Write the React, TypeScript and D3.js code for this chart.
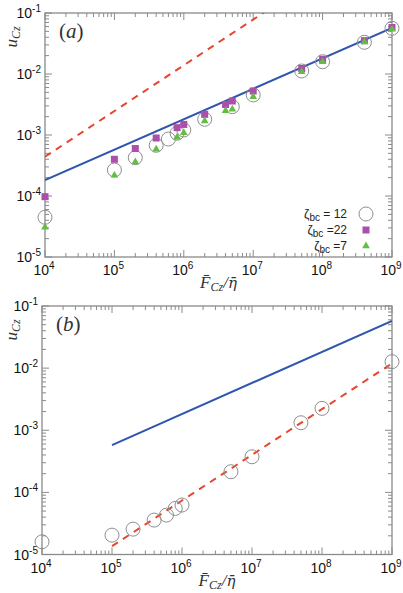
import { useEffect, useRef } from 'react';
import * as d3 from 'd3';

// Panel (a): velocity vs. scaled force for three ζbc values
const zeta12F = [1e4, 1e5, 2e5, 4e5, 6e5, 8e5, 1e6, 2e6, 5e6, 1e7, 5e7, 1e8, 4e8, 1e9];
const zeta12U = [4.48e-5, 2.67e-4, 4.25e-4, 6.78e-4, 8.59e-4, 1.07e-3, 1.21e-3, 1.81e-3, 2.91e-3, 4.53e-3, 1.12e-2, 1.59e-2, 3.31e-2, 5.61e-2];

const zeta22F = [1e4, 1e5, 2e5, 4e5, 8e5, 1e6, 2e6, 4e6, 5e6, 1e7, 5e7, 1e8, 4e8, 1e9];
const zeta22U = [9.75e-5, 4.0e-4, 6.0e-4, 8.93e-4, 1.32e-3, 1.49e-3, 2.18e-3, 3.16e-3, 3.61e-3, 5.26e-3, 1.23e-2, 1.74e-2, 3.52e-2, 5.78e-2];

const zeta7F = [1e4, 1e5, 2e5, 4e5, 8e5, 1e6, 2e6, 4e6, 5e6, 1e7, 5e7, 1e8, 4e8, 1e9];
const zeta7U = [3.07e-5, 2.18e-4, 3.6e-4, 5.83e-4, 9.16e-4, 1.09e-3, 1.70e-3, 2.50e-3, 2.64e-3, 4.25e-3, 1.09e-2, 1.59e-2, 3.35e-2, 5.41e-2];

// Panel (b): single data set
const panelBF = [1e4, 1e5, 2e5, 4e5, 6e5, 8e5, 1e6, 5e6, 1e7, 5e7, 1e8, 1e9];
const panelBU = [1.6e-5, 2.05e-5, 2.56e-5, 3.58e-5, 4.31e-5, 5.52e-5, 6.25e-5, 2.15e-4, 3.74e-4, 1.32e-3, 2.25e-3, 1.27e-2];

// power-law guide lines, as [F, u] end points
const slopeHalfA: [number, number][] = [[1e4, 1.83e-4], [1e9, 5.68e-2]];
const slopeThreeQuarterA: [number, number][] = [[1e4, 4.4e-4], [1e9, 2.47]];
const slopeHalfB: [number, number][] = [[1e5, 5.78e-4], [1e9, 5.75e-2]];
const slopeThreeQuarterB: [number, number][] = [[1e5, 1.36e-5], [1e9, 1.19e-2]];

const xDecades = [4, 5, 6, 7, 8, 9];
const yDecades = [-1, -2, -3, -4, -5];

const W = 403;
const H = 593;
const frameColor = '#8a8a8a';
const purple = '#ab4fab';
const green = '#63bd45';
const blue = '#2f55ad';
const red = '#e8452f';
const serif = '"Liberation Serif", "DejaVu Serif", serif';
const sans = '"Liberation Sans", Arial, sans-serif';

type Panel = { left: number; right: number; top: number; bottom: number; id: string };

function drawFrame(svg: any, p: Panel) {
  const x = d3.scaleLog().domain([1e4, 1e9]).range([p.left, p.right]);
  const y = d3.scaleLog().domain([1e-5, 1e-1]).range([p.bottom, p.top]);

  const g = svg.append('g');

  // minor and major ticks on all four sides
  const xTicks: { v: number; major: boolean }[] = [];
  for (let e = 4; e < 9; e++) for (let m = 1; m < 10; m++) xTicks.push({ v: m * Math.pow(10, e), major: m === 1 });
  xTicks.push({ v: 1e9, major: true });
  const yTicks: { v: number; major: boolean }[] = [];
  for (let e = -5; e < -1; e++) for (let m = 1; m < 10; m++) yTicks.push({ v: m * Math.pow(10, e), major: m === 1 });
  yTicks.push({ v: 1e-1, major: true });

  xTicks.forEach(t => {
    const len = t.major ? 7 : 4;
    const px = x(t.v);
    g.append('line').attr('x1', px).attr('x2', px).attr('y1', p.bottom).attr('y2', p.bottom - len)
      .attr('stroke', frameColor).attr('stroke-width', 1);
    g.append('line').attr('x1', px).attr('x2', px).attr('y1', p.top).attr('y2', p.top + len)
      .attr('stroke', frameColor).attr('stroke-width', 1);
  });
  yTicks.forEach(t => {
    const len = t.major ? 7 : 4;
    const py = y(t.v);
    g.append('line').attr('x1', p.left).attr('x2', p.left + len).attr('y1', py).attr('y2', py)
      .attr('stroke', frameColor).attr('stroke-width', 1);
    g.append('line').attr('x1', p.right).attr('x2', p.right - len).attr('y1', py).attr('y2', py)
      .attr('stroke', frameColor).attr('stroke-width', 1);
  });

  g.append('rect').attr('x', p.left).attr('y', p.top)
    .attr('width', p.right - p.left).attr('height', p.bottom - p.top)
    .attr('fill', 'none').attr('stroke', frameColor).attr('stroke-width', 1.3);

  xDecades.forEach(e => {
    const t = g.append('text').attr('x', x(Math.pow(10, e)) - 1).attr('y', p.bottom + 18)
      .attr('text-anchor', 'middle').attr('font-family', sans).attr('font-size', 14).attr('fill', '#111');
    t.append('tspan').text('10');
    t.append('tspan').attr('dy', -6).attr('font-size', 10).text(String(e));
  });
  yDecades.forEach(e => {
    const t = g.append('text').attr('x', p.left - 4).attr('y', y(Math.pow(10, e)) + 5)
      .attr('text-anchor', 'end').attr('font-family', sans).attr('font-size', 14).attr('fill', '#111');
    t.append('tspan').text('10');
    t.append('tspan').attr('dy', -6).attr('font-size', 10).text(String(e));
  });

  // clip region for guide lines
  svg.append('clipPath').attr('id', `clip-${p.id}`)
    .append('rect').attr('x', p.left).attr('y', p.top)
    .attr('width', p.right - p.left).attr('height', p.bottom - p.top);

  return { x, y };
}

function axisTitles(svg: any, p: Panel, tag: string) {
  const cx = (p.left + p.right) / 2;

  const xl = svg.append('text').attr('x', cx).attr('y', p.bottom + 31)
    .attr('text-anchor', 'middle').attr('font-family', serif).attr('font-style', 'italic')
    .attr('font-size', 17).attr('fill', '#333');
  xl.append('tspan').text('F\u0304');
  xl.append('tspan').attr('dy', 3).attr('font-size', 12).text('Cz');
  xl.append('tspan').attr('dy', -3).text('/');
  xl.append('tspan').attr('font-family', '"DejaVu Serif", serif').attr('font-size', 15).text('\u03b7\u0304');

  const yl = svg.append('text')
    .attr('transform', `translate(17,${p.top + 24}) rotate(-90)`)
    .attr('text-anchor', 'middle').attr('font-family', serif).attr('font-style', 'italic')
    .attr('font-size', 17).attr('fill', '#333');
  yl.append('tspan').text('u');
  yl.append('tspan').attr('dy', 3).attr('font-size', 12).text('Cz');

  const pl = svg.append('text').attr('x', p.left + 14).attr('y', p.top + 25)
    .attr('font-family', serif).attr('font-size', 21).attr('fill', '#333');
  pl.append('tspan').text('(');
  pl.append('tspan').attr('font-style', 'italic').text(tag);
  pl.append('tspan').text(')');
}

function guide(svg: any, sc: any, pts: [number, number][], color: string, dashed: boolean, id: string) {
  const line = d3.line<[number, number]>().x(d => sc.x(d[0])).y(d => sc.y(d[1]));
  svg.append('path').attr('d', line(pts)).attr('fill', 'none')
    .attr('stroke', color).attr('stroke-width', 2)
    .attr('stroke-dasharray', dashed ? '7,6' : null)
    .attr('clip-path', `url(#clip-${id})`);
}

function circles(svg: any, sc: any, F: number[], U: number[]) {
  svg.append('g').selectAll('circle').data(F).join('circle')
    .attr('cx', (d: number) => sc.x(d)).attr('cy', (_: number, i: number) => sc.y(U[i]))
    .attr('r', 7).attr('fill', 'none').attr('stroke', '#8e8e8e').attr('stroke-width', 1);
}

function squares(svg: any, sc: any, F: number[], U: number[]) {
  svg.append('g').selectAll('rect').data(F).join('rect')
    .attr('x', (d: number) => sc.x(d) - 3.5).attr('y', (_: number, i: number) => sc.y(U[i]) - 3.5)
    .attr('width', 7).attr('height', 7).attr('fill', purple);
}

function triangles(svg: any, sc: any, F: number[], U: number[]) {
  const tri = d3.symbol().type(d3.symbolTriangle).size(26);
  svg.append('g').selectAll('path').data(F).join('path')
    .attr('d', tri())
    .attr('transform', (d: number, i: number) => `translate(${sc.x(d)},${sc.y(U[i])})`)
    .attr('fill', green);
}

function drawChart(el: SVGSVGElement) {
  const svg = d3.select(el);
  svg.selectAll('*').remove();

  const pa: Panel = { left: 45, right: 392, top: 13, bottom: 257, id: 'a' };
  const pb: Panel = { left: 42, right: 392, top: 306, bottom: 554.5, id: 'b' };

  const sa = drawFrame(svg, pa);
  axisTitles(svg, pa, 'a');
  guide(svg, sa, slopeThreeQuarterA, red, true, 'a');
  guide(svg, sa, slopeHalfA, blue, false, 'a');
  circles(svg, sa, zeta12F, zeta12U);
  squares(svg, sa, zeta22F, zeta22U);
  triangles(svg, sa, zeta7F, zeta7U);

  // legend
  const lg = svg.append('g').attr('font-family', sans).attr('font-size', 12).attr('fill', '#222');
  const rows = [{ label: ' = 12', kind: 'c' }, { label: ' =22', kind: 's' }, { label: ' =7', kind: 't' }];
  rows.forEach((r, i) => {
    const yy = 214 + i * 16;
    const t = lg.append('text').attr('x', 347).attr('y', yy + 4).attr('text-anchor', 'end');
    t.append('tspan').text('\u03b6');
    t.append('tspan').attr('dy', 3).attr('font-size', 10).text('bc');
    t.append('tspan').attr('dy', -3).text(r.label);
    if (r.kind === 'c') {
      lg.append('circle').attr('cx', 366).attr('cy', yy).attr('r', 7)
        .attr('fill', 'none').attr('stroke', '#8e8e8e').attr('stroke-width', 1);
    } else if (r.kind === 's') {
      lg.append('rect').attr('x', 362.5).attr('y', yy - 3.5).attr('width', 7).attr('height', 7).attr('fill', purple);
    } else {
      lg.append('path').attr('d', d3.symbol().type(d3.symbolTriangle).size(26)())
        .attr('transform', `translate(366,${yy})`).attr('fill', green);
    }
  });

  const sb = drawFrame(svg, pb);
  axisTitles(svg, pb, 'b');
  guide(svg, sb, slopeHalfB, blue, false, 'b');
  guide(svg, sb, slopeThreeQuarterB, red, true, 'b');
  circles(svg, sb, panelBF, panelBU);
}

export default function App() {
  const ref = useRef<SVGSVGElement>(null);
  useEffect(() => {
    if (ref.current) drawChart(ref.current);
  }, []);
  return (
    <div style={{ position: 'absolute', left: 0, top: 0 }}>
      <svg ref={ref} width={W} height={H} style={{ display: 'block', background: '#fff' }} />
    </div>
  );
}
